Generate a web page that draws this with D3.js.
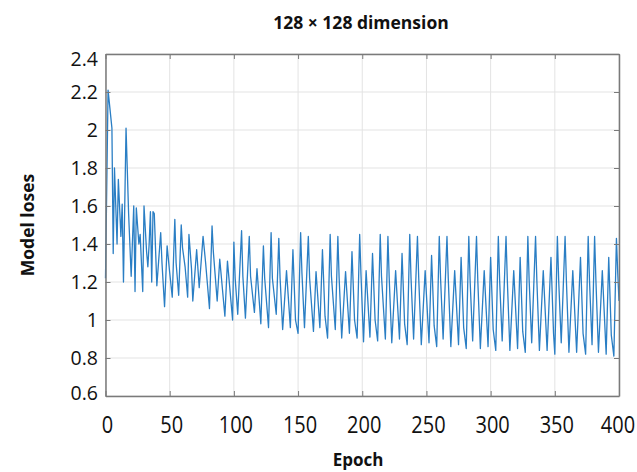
<!DOCTYPE html>
<html>
<head>
<meta charset="utf-8">
<script src="https://cdn.jsdelivr.net/npm/d3@7"></script>
<style>
  html, body { margin: 0; padding: 0; background: #fff; }
  svg { display: block; font-family: "Open Sans", "Noto Sans", sans-serif; }
</style>
</head>
<body>
<svg id="chart" width="637" height="472"></svg>
<script>
// ---- data ----
const title = "128 × 128 dimension";
const xLabel = "Epoch";
const yLabel = "Model loses";
const xTicks = [0, 50, 100, 150, 200, 250, 300, 350, 400];
const yTicks = [0.6, 0.8, 1, 1.2, 1.4, 1.6, 1.8, 2, 2.2, 2.4];
const yTickLabels = ["0.6", "0.8", "1", "1.2", "1.4", "1.6", "1.8", "2", "2.2", "2.4"];

// vertices of the loss curve: epoch, loss
const epochs = [
  0, 2, 5, 6, 7, 9, 10, 12, 13, 14, 16, 18, 20, 22, 23, 24, 26, 27, 29, 30,
  32, 33, 34, 35, 36, 37, 38, 40, 43, 44, 46, 48, 50, 52, 54, 55, 57, 59, 60, 62,
  64, 65, 67, 68, 71, 73, 76, 78, 81, 83, 84, 87, 89, 93, 95, 99, 100, 101, 103, 106,
  107, 109, 112, 113, 116, 118, 121, 123, 124, 127, 129, 130, 133, 135, 136, 138, 141, 144, 146, 148,
  150, 152, 153, 155, 158, 159, 162, 164, 167, 169, 171, 173, 175, 176, 179, 181, 182, 184, 187, 190,
  192, 194, 196, 198, 199, 201, 203, 206, 208, 210, 212, 214, 215, 218, 220, 221, 223, 226, 229, 231,
  233, 235, 237, 238, 240, 243, 244, 246, 249, 252, 254, 256, 258, 260, 261, 263, 266, 267, 269, 272,
  275, 277, 279, 281, 283, 284, 286, 289, 290, 292, 295, 298, 300, 302, 304, 306, 307, 309, 312, 313,
  315, 318, 321, 323, 325, 327, 329, 330, 332, 335, 336, 338, 341, 344, 347, 349, 350, 352, 353, 355,
  358, 359, 361, 364, 367, 370, 372, 374, 376, 377, 379, 381, 382, 384, 387, 390, 392, 394, 396, 398,
  399, 400
];
const losses = [
  1.22, 2.21, 2.01, 1.35, 1.80, 1.40, 1.74, 1.44, 1.61, 1.20, 2.01, 1.56, 1.23, 1.60, 1.15, 1.59, 1.40, 1.45, 1.15, 1.60,
  1.36, 1.28, 1.40, 1.57, 1.20, 1.57, 1.56, 1.18, 1.46, 1.30, 1.07, 1.39, 1.25, 1.12, 1.53, 1.30, 1.13, 1.50, 1.38, 1.28,
  1.12, 1.45, 1.27, 1.10, 1.37, 1.17, 1.44, 1.30, 1.06, 1.495, 1.36, 1.10, 1.32, 1.02, 1.31, 1.00, 1.41, 1.22, 1.03, 1.47,
  1.23, 1.01, 1.44, 1.23, 1.04, 1.27, 0.98, 1.39, 1.22, 0.96, 1.46, 1.22, 1.03, 1.43, 1.22, 0.95, 1.26, 0.96, 1.37, 1.00,
  0.93, 1.46, 1.25, 0.96, 1.44, 1.22, 0.94, 1.255, 0.96, 1.37, 1.02, 0.905, 1.45, 1.23, 0.95, 1.44, 1.22, 0.905, 1.255, 0.93,
  1.36, 1.00, 0.905, 1.45, 1.24, 0.885, 1.26, 0.91, 1.35, 1.00, 0.89, 1.45, 1.23, 0.90, 1.44, 1.22, 0.88, 1.26, 0.90, 1.35,
  0.98, 0.87, 1.45, 1.22, 0.90, 1.44, 1.22, 0.87, 1.26, 0.88, 1.34, 0.97, 0.86, 1.44, 1.22, 0.90, 1.44, 1.22, 0.86, 1.26,
  0.87, 1.33, 0.96, 0.85, 1.44, 1.21, 0.89, 1.44, 1.21, 0.85, 1.26, 0.86, 1.33, 0.95, 0.84, 1.44, 1.21, 0.89, 1.44, 1.21,
  0.84, 1.26, 0.85, 1.33, 0.94, 0.83, 1.44, 1.21, 0.88, 1.44, 1.21, 0.84, 1.26, 0.84, 1.33, 0.93, 0.82, 1.44, 1.21, 0.88,
  1.44, 1.21, 0.83, 1.26, 0.83, 1.33, 0.93, 0.82, 1.44, 1.21, 0.87, 1.44, 1.21, 0.83, 1.26, 0.82, 1.33, 0.92, 0.81, 1.43,
  1.25, 1.10
];

// ---- layout ----
const svg = d3.select("#chart");
const pL = 105.5, pR = 619, pT = 54, pB = 396;

const x = d3.scaleLinear().domain([0, 400]).range([pL, pR]);
const y = d3.scaleLinear().domain([0.6, 2.4]).range([pB, pT]);

// grid
const grid = svg.append("g");
grid.selectAll("line.v").data(xTicks).join("line")
  .attr("class", "v")
  .attr("x1", d => x(d)).attr("x2", d => x(d))
  .attr("y1", pT).attr("y2", pB)
  .attr("stroke", "#e3e3e3").attr("stroke-width", 1);
grid.selectAll("line.h").data(yTicks).join("line")
  .attr("class", "h")
  .attr("x1", pL).attr("x2", pR)
  .attr("y1", d => y(d)).attr("y2", d => y(d))
  .attr("stroke", "#e3e3e3").attr("stroke-width", 1);

// data line
const pts = epochs.map((e, i) => [e, losses[i]]);
svg.append("path")
  .datum(pts)
  .attr("fill", "none")
  .attr("stroke", "#2a7ec4")
  .attr("stroke-width", 1.3)
  .attr("stroke-linejoin", "round")
  .attr("d", d3.line().x(d => x(d[0])).y(d => y(d[1])));

// axes (inward ticks, box)
const axisColor = "#7a7a7a";
const tickLen = 5;
const gB = svg.append("g").attr("transform", `translate(0,${pB})`)
  .call(d3.axisBottom(x).tickValues(xTicks).tickSizeInner(-tickLen).tickSizeOuter(0).tickFormat(""));
const gT = svg.append("g").attr("transform", `translate(0,${pT})`)
  .call(d3.axisTop(x).tickValues(xTicks).tickSizeInner(-tickLen).tickSizeOuter(0).tickFormat(""));
const gL = svg.append("g").attr("transform", `translate(${pL},0)`)
  .call(d3.axisLeft(y).tickValues(yTicks).tickSizeInner(-tickLen).tickSizeOuter(0).tickFormat(""));
const gR = svg.append("g").attr("transform", `translate(${pR},0)`)
  .call(d3.axisRight(y).tickValues(yTicks).tickSizeInner(-tickLen).tickSizeOuter(0).tickFormat(""));
[gB, gT, gL, gR].forEach(g => {
  g.selectAll("path.domain").attr("stroke", axisColor).attr("stroke-width", 1.5);
  g.selectAll(".tick line").attr("stroke", axisColor).attr("stroke-width", 1);
});

// y tick labels
svg.append("g").selectAll("text").data(yTicks).join("text")
  .attr("x", 98)
  .attr("y", d => Math.min(393, Math.max(59, y(d))))
  .attr("dy", "0.35em")
  .attr("text-anchor", "end")
  .attr("font-size", 19.5)
  .attr("fill", "#111")
  .text((d, i) => yTickLabels[i]);

// x tick labels (slightly tall glyphs, as in the reference)
svg.append("g").selectAll("text").data(xTicks).join("text")
  .attr("transform", d => `translate(${Math.min(x(d) + 2, 618)},433) scale(1,1.2)`)
  .attr("text-anchor", "middle")
  .attr("font-size", 20)
  .attr("fill", "#111")
  .text(d => d);

// title & axis labels
svg.append("text")
  .attr("x", 361).attr("y", 29)
  .attr("text-anchor", "middle")
  .attr("font-size", 17.5).attr("font-weight", "bold").attr("fill", "#111")
  .text(title);
svg.append("text")
  .attr("x", 358).attr("y", 466)
  .attr("text-anchor", "middle")
  .attr("font-size", 17).attr("font-weight", "bold").attr("fill", "#111")
  .text(xLabel);
svg.append("text")
  .attr("transform", "translate(34,225) rotate(-90)")
  .attr("text-anchor", "middle")
  .attr("font-size", 17.5).attr("font-weight", "bold").attr("fill", "#111")
  .text(yLabel);
</script>
</body>
</html>
